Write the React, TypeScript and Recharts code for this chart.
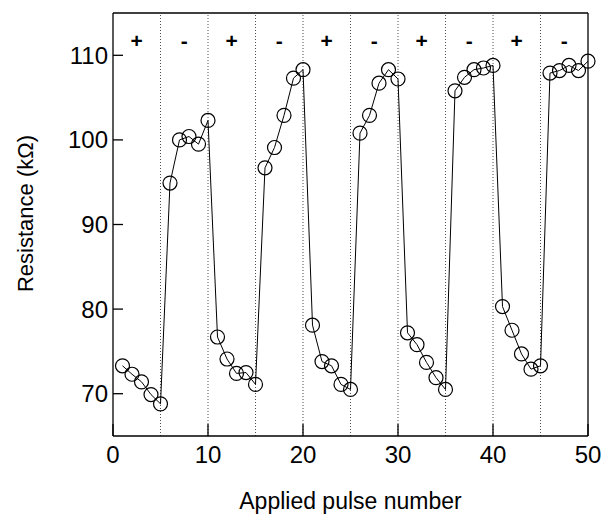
import {
  ComposedChart,
  Line,
  XAxis,
  YAxis,
  ReferenceLine,
  ReferenceDot,
  Label,
} from 'recharts';

const pulses = [
  1, 2, 3, 4, 5, 6, 7, 8, 9, 10,
  11, 12, 13, 14, 15, 16, 17, 18, 19, 20,
  21, 22, 23, 24, 25, 26, 27, 28, 29, 30,
  31, 32, 33, 34, 35, 36, 37, 38, 39, 40,
  41, 42, 43, 44, 45, 46, 47, 48, 49, 50,
];

const resistance = [
  73.3, 72.3, 71.4, 69.9, 68.8, 94.9, 100.0, 100.4, 99.5, 102.3,
  76.7, 74.1, 72.4, 72.5, 71.1, 96.7, 99.1, 102.9, 107.3, 108.3,
  78.1, 73.8, 73.3, 71.1, 70.5, 100.8, 102.9, 106.7, 108.3, 107.2,
  77.2, 75.8, 73.7, 71.9, 70.5, 105.8, 107.4, 108.3, 108.5, 108.8,
  80.3, 77.5, 74.7, 72.9, 73.3, 107.9, 108.2, 108.8, 108.2, 109.3,
];

const xTicks = [0, 10, 20, 30, 40, 50];
const xMinorTicks = [5, 15, 25, 35, 45];
const yTicks = [70, 80, 90, 100, 110];
const dividers = [5, 10, 15, 20, 25, 30, 35, 40, 45];
const signX = [2.5, 7.5, 12.5, 17.5, 22.5, 27.5, 32.5, 37.5, 42.5, 47.5];
const signs = ['+', '-', '+', '-', '+', '-', '+', '-', '+', '-'];

const X_MIN = 0;
const X_MAX = 50;
const Y_MIN = 65;
const Y_MAX = 115;

const font = '"Liberation Sans", Arial, sans-serif';

const data = pulses.map((p, i) => ({ pulse: p, r: resistance[i] }));

const tickStroke = { stroke: '#000', strokeWidth: 1.3 };
const minorStroke = { stroke: '#000', strokeWidth: 1 };

export default function App() {
  return (
    <div style={{ position: 'absolute', left: 0, top: 0, background: '#fff' }}>
      <ComposedChart
        width={603}
        height={516}
        data={data}
        margin={{ top: 11, right: 14, bottom: 0, left: 0 }}
        style={{ fontFamily: font }}
      >
        {/* minor inward ticks along the bottom edge (declared first so it sits on the frame) */}
        <XAxis
          xAxisId="bMinor"
          orientation="bottom"
          type="number"
          domain={[X_MIN, X_MAX]}
          ticks={xMinorTicks}
          height={1}
          axisLine={false}
          tick={false}
          tickSize={-5}
          tickLine={minorStroke}
        />
        <XAxis
          dataKey="pulse"
          type="number"
          domain={[X_MIN, X_MAX]}
          ticks={xTicks}
          axisLine={false}
          tickLine={tickStroke}
          tickSize={-12}
          tickMargin={22}
          height={79}
          tick={{ fill: '#000', fontSize: 24, fontFamily: font }}
        >
          <Label
            value="Applied pulse number"
            position="insideBottom"
            offset={6}
            style={{ fill: '#000', fontSize: 23, fontFamily: font }}
          />
        </XAxis>
        <XAxis
          xAxisId="top"
          orientation="top"
          type="number"
          domain={[X_MIN, X_MAX]}
          ticks={xTicks}
          height={1}
          axisLine={false}
          tick={false}
          tickSize={-12}
          tickLine={tickStroke}
        />
        <XAxis
          xAxisId="tMinor"
          orientation="top"
          type="number"
          domain={[X_MIN, X_MAX]}
          ticks={xMinorTicks}
          height={1}
          axisLine={false}
          tick={false}
          tickSize={-6}
          tickLine={minorStroke}
        />
        <YAxis
          type="number"
          domain={[Y_MIN, Y_MAX]}
          ticks={yTicks}
          axisLine={false}
          tickLine={tickStroke}
          tickSize={-10}
          tickMargin={15}
          width={113}
          tick={{ fill: '#000', fontSize: 24, fontFamily: font }}
        >
          <Label
            value="Resistance (kΩ)"
            angle={-90}
            position="insideLeft"
            offset={25}
            dy={-11}
            style={{ fill: '#000', fontSize: 22, fontFamily: font, textAnchor: 'middle' }}
          />
        </YAxis>
        <YAxis
          yAxisId="right"
          orientation="right"
          type="number"
          domain={[Y_MIN, Y_MAX]}
          ticks={yTicks}
          width={1}
          axisLine={false}
          tick={false}
          tickSize={-10}
          tickLine={tickStroke}
        />

        {dividers.map((d) => (
          <ReferenceLine
            key={'div' + d}
            x={d}
            stroke="#222"
            strokeWidth={0.8}
            strokeDasharray="1 2"
          />
        ))}

        {/* plot frame */}
        <ReferenceLine x={X_MIN} stroke="#000" strokeWidth={1.3} ifOverflow="visible" />
        <ReferenceLine x={X_MAX} stroke="#000" strokeWidth={1.3} ifOverflow="visible" />
        <ReferenceLine y={Y_MIN} stroke="#000" strokeWidth={1.3} ifOverflow="visible" />
        <ReferenceLine y={Y_MAX} stroke="#000" strokeWidth={1.3} ifOverflow="visible" />

        {signX.map((x, i) => (
          <ReferenceDot
            key={'s' + i}
            x={x}
            y={111.8}
            r={0}
            fill="none"
            stroke="none"
            label={{
              value: signs[i],
              position: 'center',
              fill: '#000',
              fontSize: 21,
              fontWeight: 'bold',
              fontFamily: font,
            }}
          />
        ))}

        <Line
          dataKey="r"
          type="linear"
          stroke="#000"
          strokeWidth={1}
          dot={{ r: 7, fill: 'none', stroke: '#000', strokeWidth: 1.2 }}
          activeDot={false}
          isAnimationActive={false}
        />
      </ComposedChart>
    </div>
  );
}
